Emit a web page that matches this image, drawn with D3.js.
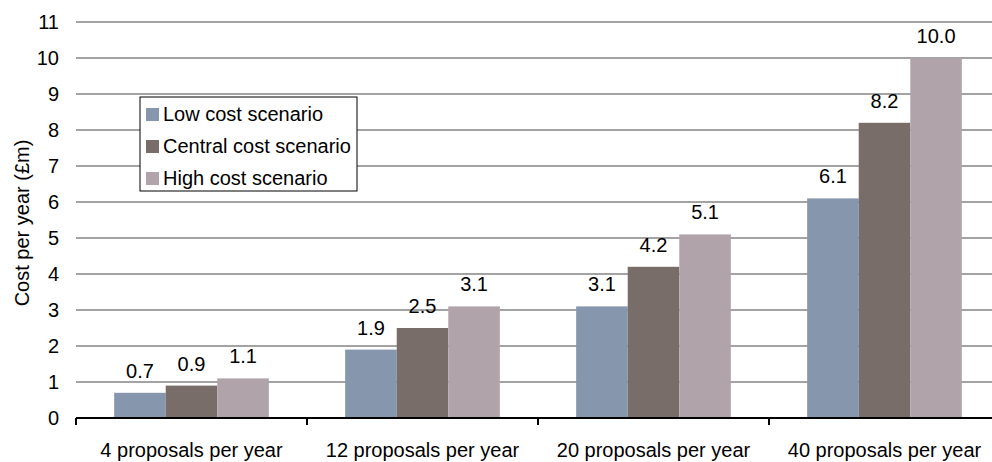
<!DOCTYPE html>
<html>
<head>
<meta charset="utf-8">
<script src="https://cdn.jsdelivr.net/npm/d3@7"></script>
<style>
  body { margin: 0; background: #fff; }
  text { font-family: "Liberation Sans", Arial, sans-serif; fill: #000; font-size: 20px; }
</style>
</head>
<body>
<div id="chart"></div>
<script>
// data
var categories = ["4 proposals per year", "12 proposals per year", "20 proposals per year", "40 proposals per year"];
var seriesNames = ["Low cost scenario", "Central cost scenario", "High cost scenario"];
var lowCost = [0.7, 1.9, 3.1, 6.1];
var centralCost = [0.9, 2.5, 4.2, 8.2];
var highCost = [1.1, 3.1, 5.1, 10.0];
var yTicks = [0, 1, 2, 3, 4, 5, 6, 7, 8, 9, 10, 11];
var colors = ["#8596ad", "#786d68", "#b0a3a9"];

var series = [lowCost, centralCost, highCost];
var width = 992, height = 462;
var margin = { top: 22, left: 76, bottom: 44 };
var plotRight = 1000; // chart runs off the right edge in the reference

var svg = d3.select("#chart").append("svg")
  .attr("width", width)
  .attr("height", height);

var x = d3.scaleBand().domain(categories).range([margin.left, plotRight]).padding(0);
var x1 = d3.scaleBand().domain(d3.range(series.length)).range([0, x.bandwidth()]).paddingInner(0).paddingOuter(0.74);
var y = d3.scaleLinear().domain([0, 11]).range([height - margin.bottom, margin.top]);

// gridlines
svg.append("g")
  .selectAll("line")
  .data(yTicks.filter(function(d) { return d > 0; }))
  .enter().append("line")
  .attr("x1", margin.left).attr("x2", plotRight)
  .attr("y1", function(d) { return y(d); })
  .attr("y2", function(d) { return y(d); })
  .attr("stroke", "#a3a3a3")
  .attr("stroke-width", 2);

// y tick labels
svg.append("g")
  .selectAll("text")
  .data(yTicks)
  .enter().append("text")
  .attr("x", 59)
  .attr("y", function(d) { return y(d); })
  .attr("dy", "0.36em")
  .attr("text-anchor", "end")
  .text(function(d) { return d; });

// y title
svg.append("text")
  .attr("transform", "translate(29," + (y(5.5) + 3) + ") rotate(-90)")
  .attr("text-anchor", "middle")
  .text("Cost per year (£m)");

// bars
var groups = svg.append("g")
  .selectAll("g")
  .data(categories)
  .enter().append("g")
  .attr("transform", function(d) { return "translate(" + x(d) + ",0)"; });

function rows(d, i) {
  return series.map(function(s, j) { return { j: j, v: s[i] }; });
}

groups.selectAll("rect")
  .data(rows)
  .enter().append("rect")
  .attr("x", function(d) { return x1(d.j); })
  .attr("width", x1.bandwidth())
  .attr("y", function(d) { return y(d.v); })
  .attr("height", function(d) { return y(0) - y(d.v); })
  .attr("fill", function(d) { return colors[d.j]; });

groups.selectAll("text")
  .data(rows)
  .enter().append("text")
  .attr("x", function(d) { return x1(d.j) + x1.bandwidth() / 2; })
  .attr("y", function(d) { return y(d.v) - 15; })
  .attr("text-anchor", "middle")
  .text(function(d) { return d.v.toFixed(1); });

// x axis
var xAxis = svg.append("g")
  .attr("transform", "translate(0," + y(0) + ")");
xAxis.append("line")
  .attr("x1", margin.left).attr("x2", plotRight)
  .attr("stroke", "#000").attr("stroke-width", 2);
xAxis.selectAll(".tk")
  .data(categories)
  .enter().append("line")
  .attr("class", "tk")
  .attr("x1", function(d) { return x(d); })
  .attr("x2", function(d) { return x(d); })
  .attr("y1", 0).attr("y2", 7)
  .attr("stroke", "#000").attr("stroke-width", 2);
xAxis.selectAll("text")
  .data(categories)
  .enter().append("text")
  .attr("x", function(d) { return x(d) + x.bandwidth() / 2; })
  .attr("y", 39)
  .attr("text-anchor", "middle")
  .text(function(d) { return d; });

// legend
var legend = svg.append("g").attr("transform", "translate(140,97)");
legend.append("rect")
  .attr("width", 217).attr("height", 94)
  .attr("fill", "#fff").attr("stroke", "#000").attr("stroke-width", 1);
var items = legend.selectAll(".item")
  .data(seriesNames)
  .enter().append("g")
  .attr("class", "item")
  .attr("transform", function(d, i) { return "translate(6," + (17 + i * 32) + ")"; });
items.append("rect")
  .attr("y", -6).attr("width", 13).attr("height", 13)
  .attr("fill", function(d, i) { return colors[i]; });
items.append("text")
  .attr("x", 17)
  .attr("dy", "0.36em")
  .text(function(d) { return d; });
</script>
</body>
</html>
